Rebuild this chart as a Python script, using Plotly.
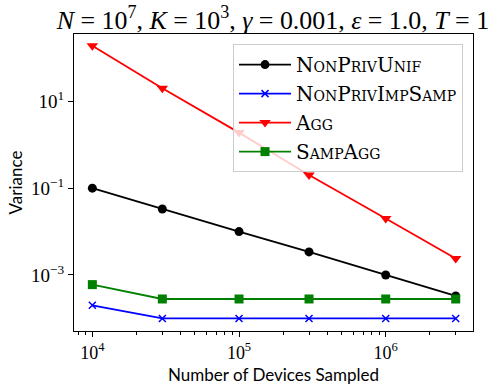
import plotly.graph_objects as go

x_devices = [1e4, 3e4, 1e5, 3e5, 1e6, 3e6]
nonpriv_unif = [0.1, 0.033, 0.01, 0.0034, 0.001, 0.00033]
nonpriv_impsamp = [0.0002, 0.0001, 0.0001, 0.0001, 0.0001, 0.0001]
agg = [190, 20, 1.9, 0.2, 0.02, 0.0024]
samp_agg = [0.0006, 0.00028, 0.00028, 0.00028, 0.00028, 0.00028]

series_names = ["NonPrivUnif", "NonPrivImpSamp", "Agg", "SampAgg"]
series_colors = ["black", "blue", "red", "green"]
series_symbols = ["circle", "x-thin", "triangle-down", "square"]

x_tickvals = [1e4, 1e5, 1e6]
x_ticktext = ["10<sup>4</sup>", "10<sup>5</sup>", "10<sup>6</sup>"]
y_tickvals = [1e1, 1e-1, 1e-3]
y_ticktext = ["10<sup>1</sup>", "10<sup>\u22121</sup>", "10<sup>\u22123</sup>"]
x_title = "Number of Devices Sampled"
y_title = "Variance"

fig = go.Figure()
for name, vals, col, sym in zip(series_names, [nonpriv_unif, nonpriv_impsamp, agg, samp_agg],
                                 series_colors, series_symbols):
    fig.add_trace(go.Scatter(
        x=x_devices, y=vals, name=name, mode="lines+markers",
        line=dict(color=col, width=1.8),
        marker=dict(symbol=sym, size=(10 if sym == "triangle-down" else 9) if sym != "x-thin" else 7,
                    color=col, line=dict(color=col, width=1.5 if sym == "x-thin" else 0)),
    ))

minor_x = [m * 10 ** e for e in range(3, 7) for m in range(2, 10)]

fig.update_layout(
    width=498, height=388,
    margin=dict(l=74, r=25, t=34, b=57, autoexpand=False),
    paper_bgcolor="white", plot_bgcolor="white",
    title=dict(
        text="<i>N</i> = 10<sup>7</sup>, <i>K</i> = 10<sup>3</sup>, <i>\u03b3</i> = 0.001, <i>\u03b5</i> = 1.0, <i>T</i> = 1",
        x=0.548, xanchor="center", y=1 - 20 / 388, yanchor="middle",
        font=dict(family="Liberation Serif", size=25.9, color="black"),
    ),
    font=dict(family="Liberation Serif", color="black"),
    legend=dict(
        x=0.975, xanchor="right", y=0.966, yanchor="top",
        bgcolor="rgba(255,255,255,0.8)", bordercolor="#cccccc", borderwidth=1,
        font=dict(family="DejaVu Serif", size=20, color="black", variant="small-caps"),
        itemwidth=52, tracegroupgap=0,
    ),
    showlegend=True,
    annotations=[dict(
        text=x_title, xref="paper", yref="paper", x=0.5, xanchor="center",
        y=-(374 - 331) / 297, yanchor="middle", showarrow=False,
        font=dict(family="Lato", size=17, color="black"),
    )],
)

fig.update_xaxes(
    type="log", range=[3.875, 6.595], automargin=False,
    showline=True, linecolor="black", linewidth=1, mirror=True,
    showgrid=False, zeroline=False,
    ticks="outside", ticklen=5, tickcolor="black", tickwidth=1,
    tickvals=x_tickvals, ticktext=x_ticktext,
    tickfont=dict(family="Liberation Serif", size=18, color="black"),
    minor=dict(ticks="outside", ticklen=3, tickcolor="black", tickwidth=0.8, tickvals=minor_x, showgrid=False),
)
fig.update_yaxes(
    type="log", range=[-4.29, 2.55], automargin=False,
    showline=True, linecolor="black", linewidth=1, mirror=True,
    showgrid=False, zeroline=False,
    ticks="outside", ticklen=5, tickcolor="black", tickwidth=1,
    tickvals=y_tickvals, ticktext=y_ticktext,
    tickfont=dict(family="Liberation Serif", size=19, color="black"),
    title=dict(text=y_title, font=dict(family="Lato", size=17, color="black"), standoff=4),
)

fig.write_html("out.html", config={"displayModeBar": False},
               post_script="document.body.style.margin='0';")
